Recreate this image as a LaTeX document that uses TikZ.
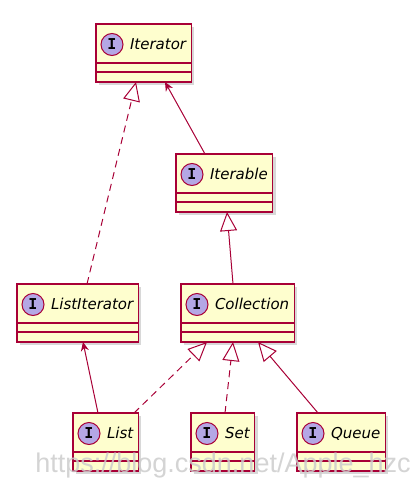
\documentclass[tikz,border=0pt]{standalone}
\usepackage{fontspec}
\setmainfont{DejaVu Sans}
\newfontfamily\spotfont{DejaVu Sans Mono}
\newfontfamily\markfont{Liberation Sans}
\usepackage{xcolor}
\usepackage{tikz}
\usetikzlibrary{arrows.meta,shadows,positioning,calc}

\definecolor{umlred}{HTML}{A80036}
\definecolor{umlfill}{HTML}{FEFECE}
\definecolor{umlspot}{HTML}{B4A7E5}

\begin{document}
\begin{tikzpicture}[
  x=1pt, y=-1pt,
  >={Stealth[length=9pt,width=8pt]},
  % Interface boxes
  iface/.style={
    draw=umlred, fill=umlfill, line width=1.2pt,
    anchor=north west, outer sep=0pt,
    inner xsep=0pt, inner ysep=0pt,
    text height=25pt, text depth=33pt,
    font=\fontsize{15}{18}\selectfont\itshape,
    execute at begin node={\hspace*{34pt}},
    execute at end node={\hspace*{5pt}},
    drop shadow={shadow xshift=3pt, shadow yshift=-3pt, fill=black!30, draw=none}
  },
  spot/.style={
    circle, draw=umlred, fill=umlspot, line width=1pt,
    minimum size=22pt, inner sep=0pt,
    font=\spotfont\bfseries\fontsize{15}{15}\selectfont
  },
  divider/.style={draw=umlred, line width=1.2pt},
  % Connectors
  dep/.style={->, draw=umlred, line width=1pt},
  gen/.style={-{Triangle[open,length=19pt,width=17pt]}, draw=umlred, line width=1pt},
  real/.style={gen, dash pattern=on 7pt off 5pt},
  wmark/.style={anchor=base, font=\markfont\fontsize{27}{27}\selectfont,
    text=black!20, opacity=0.85},
]
\useasboundingbox (0,0) rectangle (418,487);

% -------------------------------------------------------
% Interfaces
% -------------------------------------------------------
\node[iface] (iter)     at (96,24)   {Iterator};
\node[iface] (iterable) at (176,154) {Iterable};
\node[iface] (listit)   at (17,284)  {ListIterator};
\node[iface] (coll)     at (181,284) {Collection};
\node[iface] (list)     at (73,413)  {List};
\node[iface] (set)      at (191,413) {Set};
\node[iface] (queue)    at (297,413) {Queue};

% compartments and "I" spots
\foreach \n in {iter,iterable,listit,coll,list,set,queue} {
  \draw[divider] ([yshift=-39pt]\n.north west) -- ([yshift=-39pt]\n.north east);
  \draw[divider] ([yshift=-48pt]\n.north west) -- ([yshift=-48pt]\n.north east);
  \node[spot] (\n-spot) at ([xshift=16pt,yshift=-20.5pt]\n.north west) {I};
}

% -------------------------------------------------------
% Relations
% -------------------------------------------------------
\draw[dep]  ([xshift=29pt]iterable.north west) -- ([xshift=69pt]iter.south west);
\draw[real] ([xshift=70pt]listit.north west)   -- ([xshift=40pt]iter.south west);
\draw[gen]  ([xshift=52pt]coll.north west)     -- ([xshift=51pt]iterable.south west);
\draw[dep]  ([xshift=25pt]list.north west)     -- ([xshift=66pt]listit.south west);
\draw[real] ([xshift=61pt]list.north west)     -- ([xshift=26pt]coll.south west);
\draw[real] ([xshift=34pt]set.north west)      -- ([xshift=52pt]coll.south west);
\draw[gen]  ([xshift=21pt]queue.north west)    -- ([xshift=77pt]coll.south west);

% watermark
\node[wmark] (wm) at (223,472) {https://blog.csdn.net/Apple\_hzc};

\end{tikzpicture}
\end{document}
